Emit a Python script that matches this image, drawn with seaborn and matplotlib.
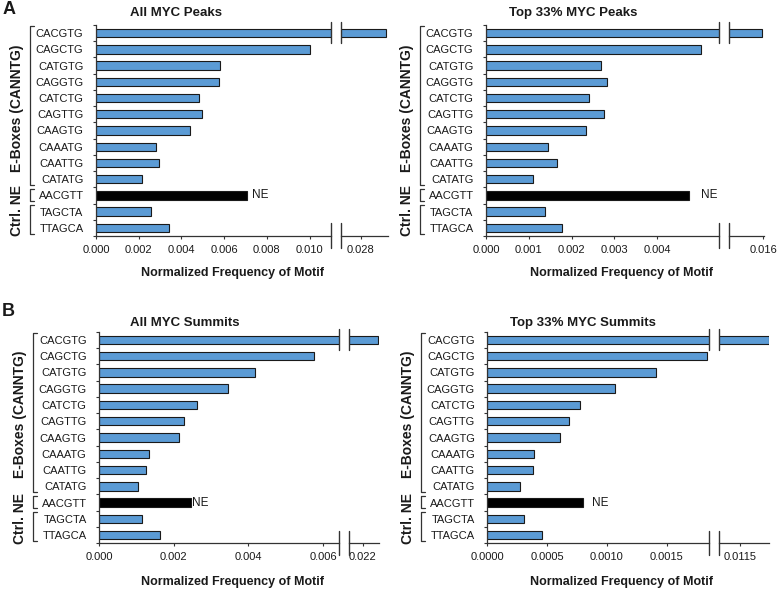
import matplotlib
matplotlib.use("Agg")
import numpy as np
import pandas as pd
import matplotlib.pyplot as plt
import matplotlib.transforms as mtransforms
import seaborn as sns

# ---------------- data ----------------
motifs = ["CACGTG", "CAGCTG", "CATGTG", "CAGGTG", "CATCTG", "CAGTTG", "CAAGTG",
          "CAAATG", "CAATTG", "CATATG", "AACGTT", "TAGCTA", "TTAGCA"]

all_peaks = [0.0292, 0.0100, 0.00582, 0.00575, 0.00484, 0.00497, 0.00442,
             0.00279, 0.00293, 0.00215, 0.00707, 0.00258, 0.00343]
top_peaks = [0.01598, 0.00503, 0.00269, 0.00283, 0.00240, 0.00276, 0.00234,
             0.00145, 0.00166, 0.00110, 0.00474, 0.00138, 0.00177]
all_summits = [0.02241, 0.00576, 0.00418, 0.00344, 0.00261, 0.00228, 0.00213,
               0.00135, 0.00127, 0.00105, 0.00246, 0.00116, 0.00163]
top_summits = [0.01174, 0.00184, 0.001407, 0.00107, 0.000772, 0.00068, 0.00061,
               0.000387, 0.000379, 0.00027, 0.000797, 0.000309, 0.000454]

titles = ["All MYC Peaks", "Top 33% MYC Peaks", "All MYC Summits", "Top 33% MYC Summits"]
main_ticks = [[0.000, 0.002, 0.004, 0.006, 0.008, 0.010],
              [0.000, 0.001, 0.002, 0.003, 0.004],
              [0.000, 0.002, 0.004, 0.006],
              [0.0000, 0.0005, 0.0010, 0.0015]]
break_ticks = [[0.028], [0.016], [0.022], [0.0115]]
tick_fmt = ["{:.3f}", "{:.3f}", "{:.3f}", "{:.4f}"]
main_lims = [(0, 0.0110), (0, 0.00544), (0, 0.00643), (0, 0.001854)]
break_lims = [(0.02708, 0.02928), (0.01518, 0.01602), (0.02164, 0.02244), (0.011327, 0.011745)]
ctrl_motif = "AACGTT"
xlabel = "Normalized Frequency of Motif"

# ---------------- style ----------------
sns.set_style("ticks")
plt.rcParams['font.family'] = ['Liberation Sans', 'DejaVu Sans']

W, H = 780, 592
fig = plt.figure(figsize=(W / 100, H / 100), dpi=100)

def fx(x):
    return x / W

def fy(y):
    return 1 - y / H

BLUE = "#5B9BD5"
EDGE = "#1a1a1a"
SPINE = "#333333"
TXT = "#1a1a1a"
palette = {m: (BLUE if m != ctrl_motif else "#000000") for m in motifs}

# pixel layout: (main x0, main x1, break x0, break x1, ytop, ybottom)
layouts = [
    (96, 331, 341, 388, 25, 236),
    (486, 718.7, 729, 764, 25, 236),
    (99, 339.3, 349.3, 379.3, 331.7, 543.3),
    (487.3, 709, 719.3, 769.3, 331.7, 543.3),
]
title_pos = [(176, 12.7), (573, 12.7), (185, 322.7), (583, 322.7)]
xlabel_pos = [(232.7, 273), (621, 273), (232.7, 581.7), (621, 581.7)]
ne_offset = [5, 12.7, 1.3, 9.7]

datasets = [all_peaks, top_peaks, all_summits, top_summits]

groups = [("E-Boxes (CANNTG)", 0, 9), ("NE", 10, 10), ("Ctrl.", 11, 12)]

for i, vals in enumerate(datasets):
    mx0, mx1, bx0, bx1, yt, yb = layouts[i]
    df = pd.DataFrame({"motif": motifs, "value": vals})
    ax = fig.add_axes([fx(mx0), fy(yb), fx(mx1 - mx0), (yb - yt) / H])
    ax2 = fig.add_axes([fx(bx0), fy(yb), fx(bx1 - bx0), (yb - yt) / H])
    for a in (ax, ax2):
        sns.barplot(data=df, x="value", y="motif", hue="motif", palette=palette,
                    order=motifs, hue_order=motifs, orient="h", width=0.52,
                    saturation=1, edgecolor=EDGE, linewidth=0.8, legend=False, ax=a)
        a.set_ylim(len(motifs) - 0.5, -0.5)
        a.set_xlabel("")
        a.set_ylabel("")
        a.spines["top"].set_visible(False)
        a.spines["right"].set_visible(False)
        a.spines["bottom"].set_color(SPINE)
        a.spines["bottom"].set_linewidth(0.9)
        a.tick_params(axis="x", direction="out", length=2.5, width=0.8,
                      color=SPINE, labelsize=8, pad=4, labelcolor=TXT)
    ax.set_xlim(*main_lims[i])
    ax2.set_xlim(*break_lims[i])
    ax.set_xticks(main_ticks[i])
    ax.set_xticklabels([tick_fmt[i].format(t) for t in main_ticks[i]])
    ax2.set_xticks(break_ticks[i])
    ax2.set_xticklabels([tick_fmt[i].format(t) for t in break_ticks[i]])

    ax.spines["left"].set_color(SPINE)
    ax.spines["left"].set_linewidth(0.9)
    ax.set_yticks(range(len(motifs)))
    ax.set_yticklabels(motifs)
    ax.set_yticks(np.arange(-0.5, len(motifs), 1.0), minor=True)
    ax.tick_params(axis="y", which="major", length=0, pad=9, labelsize=8,
                   labelcolor=TXT)
    ax.tick_params(axis="y", which="minor", direction="out", length=2.5,
                   width=0.8, color=SPINE)
    ax2.spines["left"].set_visible(False)
    ax2.set_yticks([])
    ax2.tick_params(axis="y", which="both", length=0)

    # break marks
    for a, xpos in ((ax, 1.0), (ax2, 0.0)):
        a.plot([xpos, xpos], [-0.68, 0.62], transform=a.get_yaxis_transform(),
               color=SPINE, lw=1.0, clip_on=False, zorder=5)
        a.plot([xpos, xpos], [-0.055, 0.06], transform=a.transAxes,
               color=SPINE, lw=1.0, clip_on=False, zorder=5)

    # NE label
    idx = motifs.index(ctrl_motif)
    ax.annotate("NE", xy=(vals[idx], idx), xytext=(ne_offset[i], 0),
                textcoords="offset pixels", ha="left", va="center",
                fontsize=8.5, color=TXT)

    # brackets and group labels
    br_tr = mtransforms.blended_transform_factory(ax.transAxes, ax.transData) + \
        mtransforms.ScaledTranslation(-66 / 100, 0, fig.dpi_scale_trans)
    arm = 4 / (mx1 - mx0)
    for name, g0, g1 in groups:
        top = g0 - 0.42
        bot = g1 + 0.36
        ax.plot([arm, 0, 0, arm], [top, top, bot, bot], transform=br_tr,
                color=SPINE, lw=0.9, clip_on=False)
    txt_tr = mtransforms.blended_transform_factory(ax.transAxes, ax.transData) + \
        mtransforms.ScaledTranslation(-79 / 100, 0, fig.dpi_scale_trans)
    ax.text(0, 4.6, "E-Boxes (CANNTG)", transform=txt_tr, rotation=90,
            ha="center", va="center", fontsize=10, fontweight="bold", color=TXT)
    ax.text(0, 10.95, "Ctrl. NE", transform=txt_tr, rotation=90,
            ha="center", va="center", fontsize=10, fontweight="bold", color=TXT)

    tx, ty = title_pos[i]
    fig.text(fx(tx), fy(ty), titles[i], ha="center", va="center",
             fontsize=9.5, fontweight="bold", color=TXT)
    lx, ly = xlabel_pos[i]
    fig.text(fx(lx), fy(ly), xlabel, ha="center", va="center",
             fontsize=9, fontweight="bold", color=TXT)

fig.text(fx(9), fy(9), "A", ha="center", va="center", fontsize=13, fontweight="bold", color=TXT)
fig.text(fx(8.5), fy(311.5), "B", ha="center", va="center", fontsize=13, fontweight="bold", color=TXT)

fig.savefig("out.png", dpi=100)
